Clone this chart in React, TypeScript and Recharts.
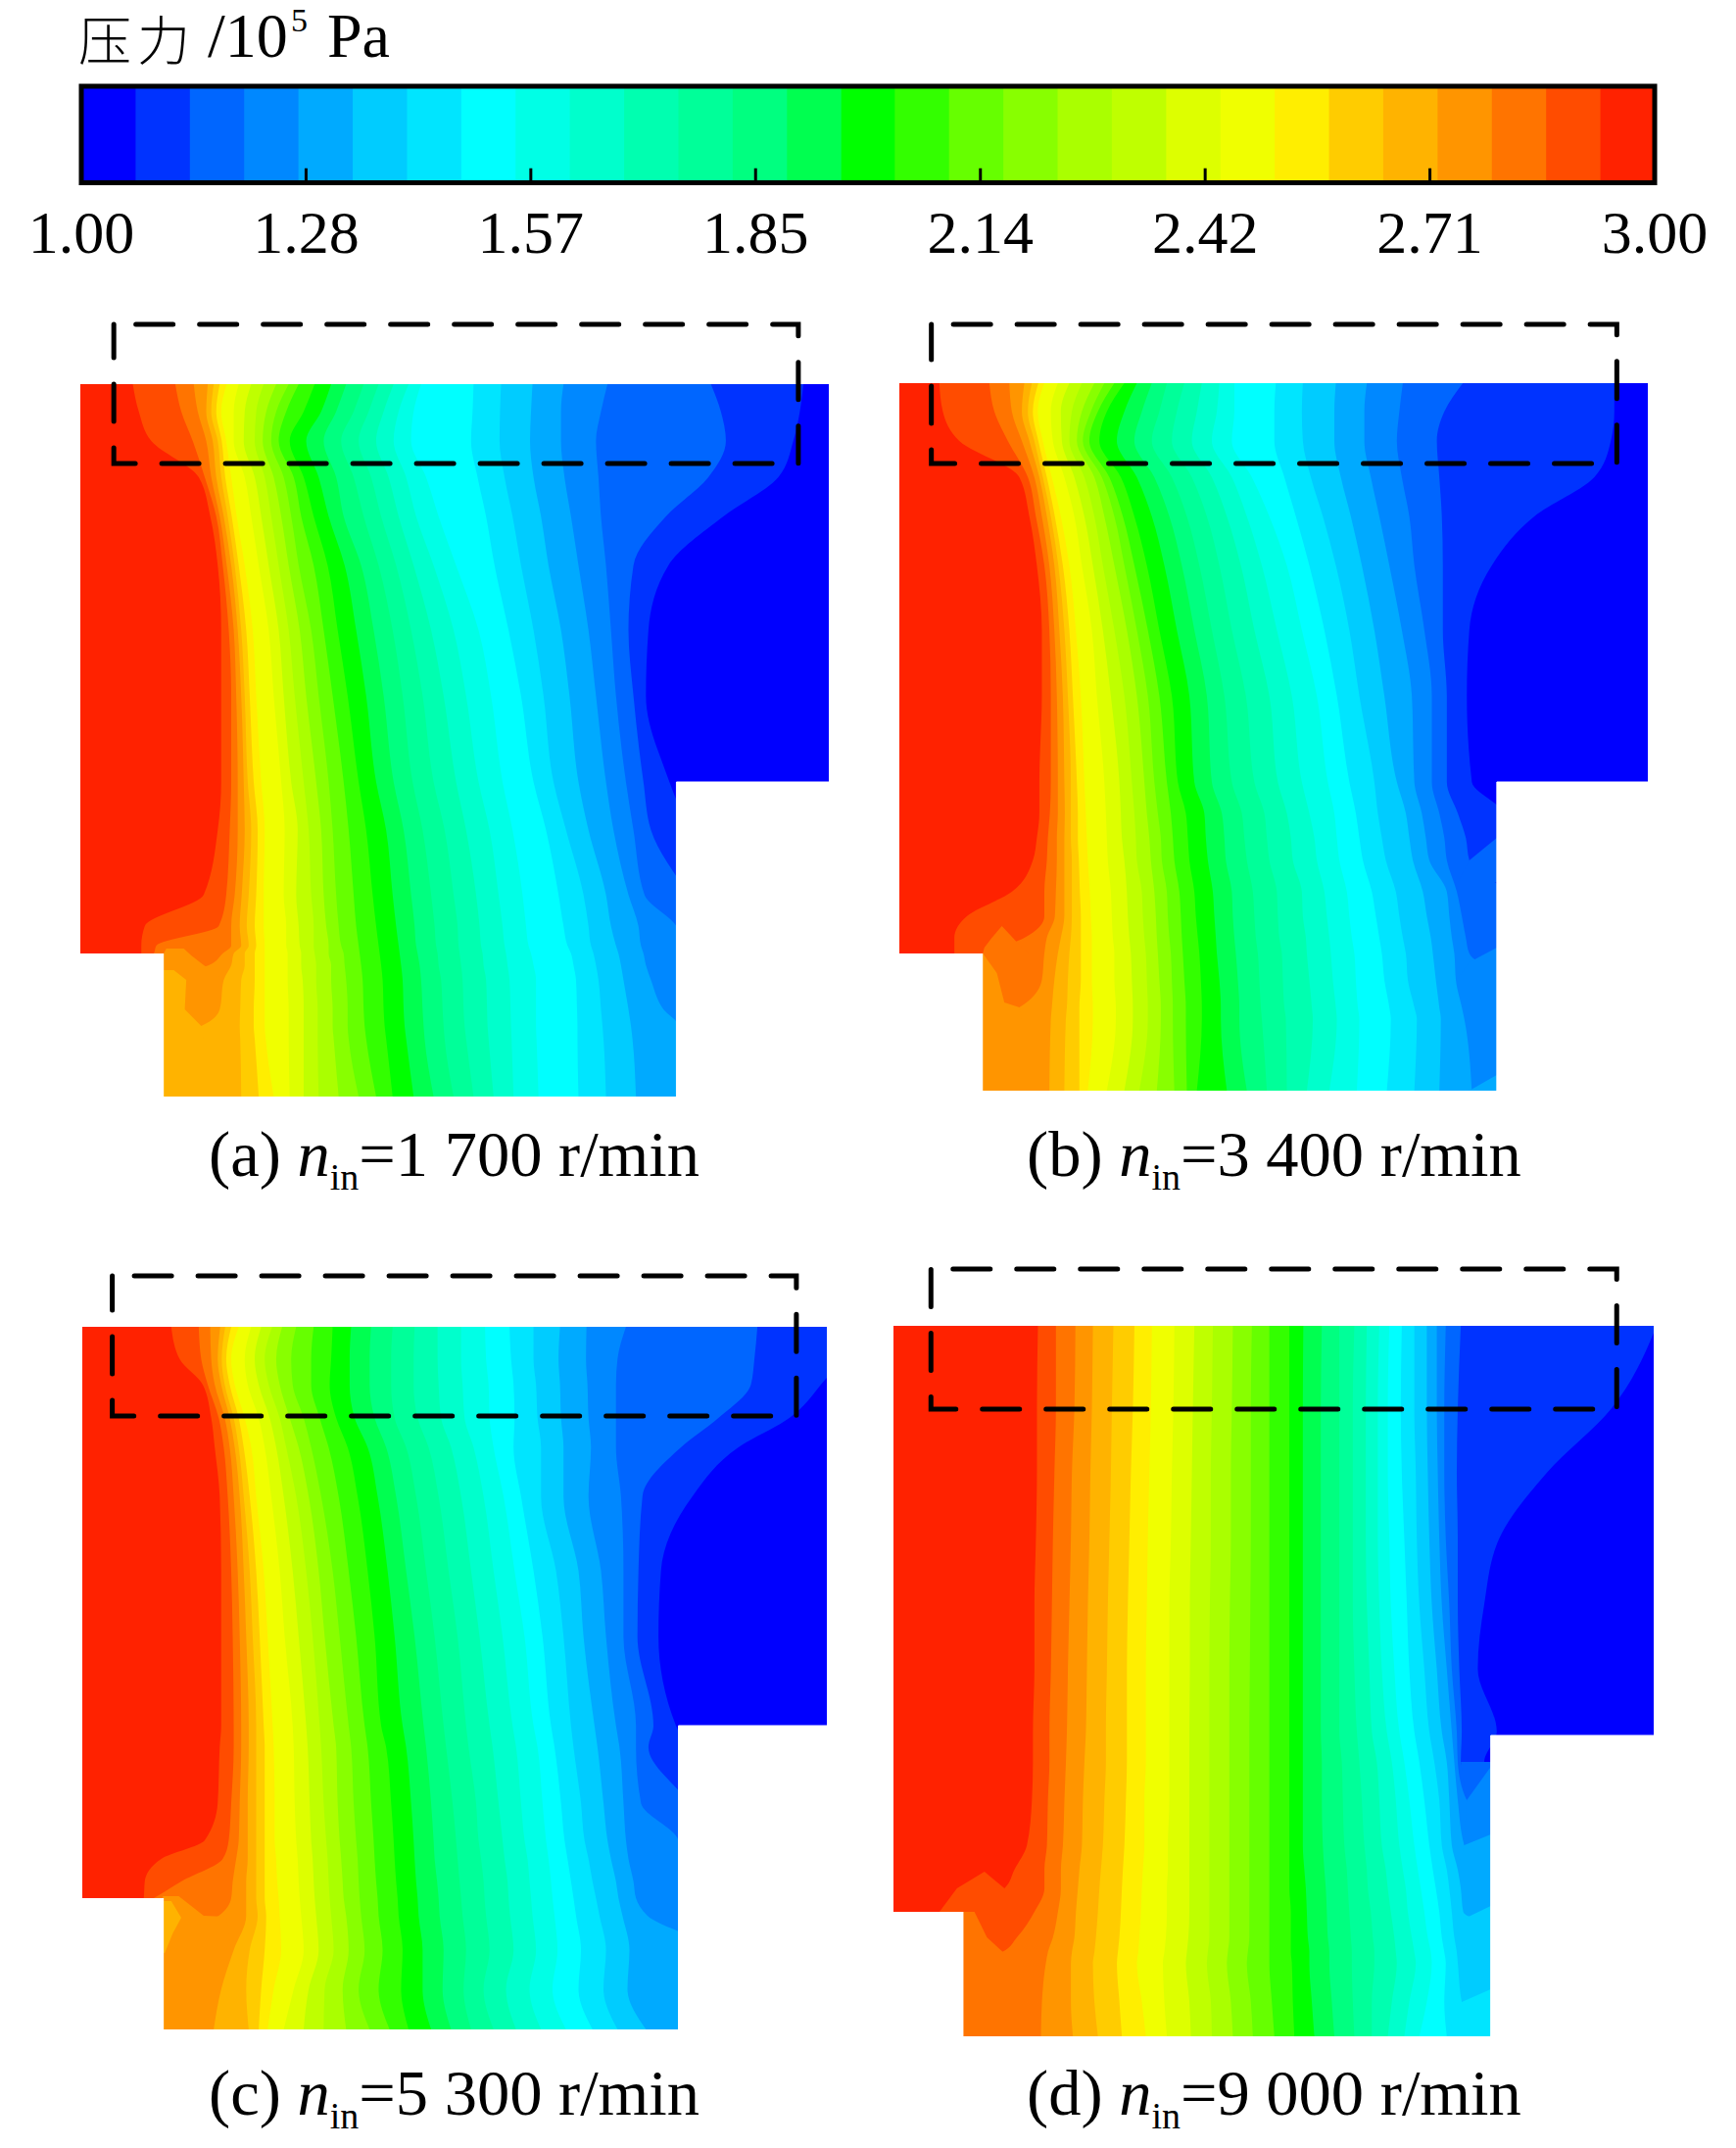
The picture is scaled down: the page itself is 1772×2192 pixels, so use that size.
import React from "react";
import {
  Area,
  ComposedChart,
  ReferenceArea,
  ReferenceLine,
  XAxis,
  YAxis,
} from "recharts";

// colour bands of the pressure scale, low to high
const bandColors = [
  "#0000FF", "#0033FF", "#0066FF", "#0088FF", "#00AAFF", "#00CCFF", "#00E5FF", "#00FFFF",
  "#00FFE6", "#00FFCC", "#00FFB0", "#00FF99", "#00FF80", "#00FF50", "#00FF00", "#33FF00",
  "#66FF00", "#88FF00", "#AAFF00", "#BFFF00", "#DDFF00", "#F0FF00", "#FFEE00", "#FFCC00",
  "#FFB300", "#FF9500", "#FF7400", "#FF4C00", "#FF2200",
];
// upper pressure of each band
const bandTops = [
  1.069, 1.138, 1.207, 1.276, 1.345, 1.414, 1.483, 1.552, 1.621, 1.69, 1.759, 1.828, 1.897, 1.966, 2.034,
  2.103, 2.172, 2.241, 2.31, 2.379, 2.448, 2.517, 2.586, 2.655, 2.724, 2.793, 2.862, 2.931, 3,
];
const scaleTicks = [1, 1.2857, 1.5714, 1.8571, 2.1429, 2.4286, 2.7143, 3];
const scaleTickLabels = ["1.00", "1.28", "1.57", "1.85", "2.14", "2.42", "2.71", "3.00"];

// contour edges per row, left to right: red|next ... second blue|blue
const panelAY = [392, 420, 450, 487, 527, 577, 643, 710, 798, 847, 913, 945, 965, 973, 985, 1000, 1030, 1047, 1060, 1119];
const panelAEdges = [
  [148,233,270,298,310,322,336,360,385,410,435,460,480,512,545,575,610,640,670,700,725,830,885,948,1010,1098,1305,1490],
  [160,245,278,295,305,315,325,350,372,395,415,435,455,490,525,555,590,620,650,680,710,828,883,945,1005,1085,1325,1483],
  [185,268,295,308,318,326,335,350,370,392,408,425,440,462,495,530,565,600,635,670,705,825,882,943,1005,1075,1335,1470],
  [280,292,305,315,325,333,345,372,392,412,430,450,470,490,520,555,590,625,660,695,735,838,892,950,1012,1080,1300,1440],
  [303,315,322,330,338,346,356,385,405,425,445,465,485,510,540,570,610,645,680,715,760,855,908,965,1025,1085,1215,1330],
  [318,328,336,345,352,360,372,400,420,440,460,480,510,538,572,605,640,675,710,750,795,872,925,980,1040,1095,1150,1220],
  [325,340,350,358,365,375,388,420,440,460,482,505,530,558,595,630,668,705,745,790,840,900,950,1005,1060,1105,1140,1180],
  [325,345,355,365,372,382,395,430,450,472,495,520,548,578,615,650,688,728,770,815,865,925,970,1022,1075,1115,1150,1175],
  [325,345,358,370,378,390,405,445,465,490,515,540,570,600,635,670,708,750,795,840,888,950,990,1040,1095,1135,1170,1222],
  [318,342,358,372,385,398,412,452,478,500,525,548,580,615,655,690,728,772,815,862,908,975,1015,1060,1110,1150,1185,1260],
  [290,335,352,366,380,395,410,450,475,505,530,555,590,628,668,705,745,790,835,880,928,1000,1050,1095,1140,1172,1260,1300],
  [172,320,345,362,376,392,410,455,480,510,535,560,595,635,675,712,752,798,842,888,935,1010,1060,1105,1160,1236,1300,1320],
  [165,195,345,365,380,395,412,455,482,510,540,565,600,640,680,715,755,800,845,892,940,1018,1065,1115,1165,1250,1300,1320],
  [165,190,328,350,372,392,412,458,485,512,540,570,602,642,682,718,758,802,848,895,945,1025,1070,1120,1170,1250,1300,1320],
  [100,120,300,345,372,392,412,458,485,515,545,572,605,645,685,722,760,805,850,898,950,1030,1075,1125,1175,1260,1300,1320],
  [100,120,150,330,365,392,412,458,488,515,545,575,608,648,688,725,765,808,855,902,955,1035,1080,1130,1185,1260,1300,1320],
  [100,120,150,322,363,390,412,460,490,518,548,578,610,650,690,728,768,810,857,904,955,1037,1085,1140,1210,1300,1320,1340],
  [100,120,150,285,362,390,412,460,490,518,548,578,612,652,692,730,770,812,858,905,955,1038,1088,1145,1240,1300,1320,1340],
  [100,120,150,180,363,392,414,460,490,518,550,580,615,655,695,732,772,815,860,906,956,1038,1090,1148,1240,1300,1320,1340],
  [100,120,150,180,365,400,430,462,490,520,560,600,635,668,710,750,790,830,870,910,960,1040,1095,1155,1240,1300,1320,1340],
];
const panelAPatches = [
  { band: 25, rows: [[968, 215, 250], [975, 208, 265], [983, 208, 285], [1000, 208, 330]] },
  { band: 24, rows: [[990, 208, 230], [1000, 208, 255], [1030, 208, 252], [1047, 208, 285], [1060, 208, 290]] },
];

const panelBY = [391, 420, 450, 487, 527, 577, 643, 710, 798, 830, 855, 878, 910, 935, 957, 973, 1000, 1028, 1040, 1113];
const panelBEdges = [
  [135,235,275,305,320,333,345,372,395,420,445,465,485,505,530,560,590,625,660,695,725,808,862,928,990,1062,1182,1485],
  [142,245,280,300,312,322,332,358,378,400,420,438,452,470,505,540,575,610,650,690,725,805,860,925,985,1055,1145,1485],
  [175,272,300,315,325,333,342,362,380,395,410,422,435,455,490,525,560,600,640,680,720,805,862,925,985,1050,1130,1478],
  [295,312,325,335,342,350,360,385,405,425,445,460,475,498,530,565,600,640,680,720,760,825,878,938,998,1060,1135,1445],
  [315,328,340,350,358,366,378,405,425,445,465,485,502,525,560,595,630,670,710,750,795,848,902,958,1015,1075,1140,1325],
  [330,345,355,365,373,382,395,420,442,462,485,505,525,550,585,620,655,695,738,780,830,875,928,980,1035,1085,1142,1240],
  [340,355,365,375,385,395,408,440,462,485,510,530,552,575,610,645,680,720,765,810,860,905,955,1005,1060,1105,1142,1195],
  [340,358,370,382,392,402,418,450,478,505,530,552,575,600,635,670,705,748,795,840,890,930,975,1025,1080,1120,1150,1190],
  [335,358,372,385,398,410,425,465,495,520,545,565,590,612,645,680,720,765,812,860,912,955,1005,1050,1085,1120,1150,1200],
  [335,356,372,386,398,412,428,468,498,525,550,572,598,628,665,700,740,785,830,875,925,968,1012,1068,1100,1135,1172,1260],
  [330,352,370,385,398,412,430,470,500,528,555,578,602,632,668,705,745,790,838,885,930,975,1020,1075,1108,1145,1188,1260],
  [322,350,370,385,400,414,432,472,505,530,558,580,605,635,672,708,750,795,842,890,935,982,1028,1082,1115,1150,1195,1260],
  [280,345,368,385,400,416,436,478,510,540,565,590,615,645,682,720,762,810,860,905,950,1000,1048,1102,1150,1170,1260,1300],
  [190,345,366,385,400,418,438,480,512,542,568,592,618,648,685,722,765,812,862,910,955,1008,1055,1110,1155,1180,1260,1300],
  [165,305,350,378,398,418,440,482,515,545,570,595,620,652,688,725,768,815,868,915,960,1015,1062,1118,1160,1188,1260,1300],
  [165,222,345,372,395,418,440,485,518,548,572,598,622,655,690,728,772,820,870,918,965,1020,1068,1122,1165,1195,1260,1300],
  [100,120,340,365,392,418,440,485,520,550,575,600,625,658,695,732,775,822,875,922,968,1025,1072,1128,1168,1260,1300,1320],
  [100,120,295,360,390,415,442,488,522,552,578,602,628,660,698,735,778,825,880,928,972,1035,1085,1135,1180,1270,1300,1320],
  [100,120,140,358,388,415,442,488,522,552,578,602,628,660,698,735,780,828,882,930,975,1038,1090,1138,1185,1270,1300,1320],
  [100,120,140,355,385,415,432,470,505,535,570,605,630,650,710,750,790,830,870,915,970,1030,1085,1135,1200,1300,1320,1340],
];
const panelBPatches = [
  { band: 26, rows: [[945, 260, 260], [957, 240, 282], [967, 225, 300], [973, 222, 312]] },
  { band: 25, rows: [[973, 220, 222], [993, 220, 250], [1023, 220, 265], [1028, 220, 295], [1040, 220, 300]] },
  { band: 2, rows: [[855, 1250, 1260], [878, 1195, 1260], [900, 1172, 1260]] },
  { band: 3, rows: [[967, 1250, 1260], [982, 1195, 1260], [1000, 1170, 1260]] },
  { band: 4, rows: [[1097, 1250, 1260], [1113, 1195, 1260]] },
];

const panelCY = [1354, 1387, 1413, 1447, 1477, 1527, 1603, 1670, 1761, 1783, 1840, 1878, 1897, 1920, 1937, 1955, 1990, 2030, 2071];
const panelCEdges = [
  [225,280,303,323,333,345,360,385,405,427,447,475,510,548,585,625,668,712,758,805,853,902,950,1003,1056,1135,1398,1540],
  [242,285,305,318,326,335,345,372,392,412,435,465,505,545,582,622,665,710,758,805,855,905,950,1000,1055,1118,1392,1560],
  [288,298,312,325,332,342,352,378,400,420,442,468,505,542,582,622,665,710,760,808,860,910,955,1003,1058,1115,1385,1525],
  [305,320,332,342,350,360,372,400,422,442,462,490,522,555,592,632,672,718,765,812,862,912,958,1005,1060,1115,1320,1462],
  [312,330,342,352,360,370,385,412,435,455,480,505,540,578,618,655,695,740,785,830,870,910,965,1010,1065,1115,1245,1360],
  [322,338,350,362,370,382,395,425,450,475,500,525,560,598,638,675,715,760,805,850,890,925,965,1010,1060,1125,1168,1268],
  [325,345,358,370,382,395,410,442,468,495,520,548,580,618,658,695,735,780,825,870,912,950,995,1040,1085,1130,1160,1205],
  [325,348,362,375,388,402,418,452,480,508,532,562,595,632,672,712,752,798,842,888,932,968,1010,1050,1095,1130,1158,1200],
  [325,350,365,380,395,410,428,468,495,522,550,580,612,645,688,730,770,815,862,908,950,985,1025,1072,1115,1155,1190,1235],
  [322,350,365,380,395,412,430,470,498,525,555,585,618,655,695,735,775,820,868,915,958,992,1030,1078,1122,1155,1180,1260],
  [318,345,362,378,395,412,432,472,502,530,558,590,625,665,705,745,788,835,880,925,968,1005,1045,1090,1130,1165,1260,1300],
  [292,340,360,378,395,412,432,475,505,535,562,595,630,670,710,750,795,840,888,932,975,1012,1052,1098,1135,1240,1300,1320],
  [205,328,355,378,395,412,435,478,508,538,565,598,632,672,712,752,798,845,892,938,980,1018,1060,1105,1140,1245,1300,1320],
  [172,245,348,375,395,412,437,480,510,540,568,600,635,675,715,757,802,850,898,942,985,1025,1068,1115,1150,1250,1300,1320],
  [170,190,345,375,395,412,440,482,512,542,570,602,638,678,718,760,805,852,900,945,988,1030,1075,1120,1155,1255,1300,1320],
  [100,120,320,375,398,415,442,485,515,545,575,605,640,680,720,762,808,855,903,948,992,1035,1082,1128,1178,1262,1300,1320],
  [100,120,140,350,382,412,445,490,520,550,580,612,648,688,728,770,815,862,910,955,998,1045,1095,1142,1300,1310,1320,1340],
  [100,120,140,325,375,405,430,470,500,532,568,600,640,685,728,768,810,850,895,942,988,1040,1090,1138,1260,1300,1310,1320],
  [100,120,140,310,380,400,418,450,490,530,575,622,662,700,745,785,825,870,915,965,1015,1068,1118,1175,1260,1290,1310,1320],
];
const panelCPatches = [
  { band: 25, rows: [[1935, 208, 240], [1947, 208, 270], [1955, 208, 290], [1956, 208, 335], [1990, 208, 345]] },
  { band: 24, rows: [[1940, 208, 225], [1957, 208, 245], [1973, 208, 228], [1993, 208, 212]] },
];

const panelDY = [1353, 1437, 1503, 1570, 1637, 1703, 1767, 1798, 1837, 1883, 1908, 1927, 1951, 1977, 1992, 2003, 2043, 2078];
const panelDEdges = [
  [332,368,407,442,483,525,560,605,645,682,722,760,795,835,863,900,935,965,990,1015,1035,1060,1085,1110,1130,1148,1178,1570],
  [330,368,405,440,480,522,558,603,642,680,720,758,795,835,862,898,935,962,988,1012,1032,1058,1085,1110,1130,1145,1172,1480],
  [330,365,400,437,478,518,555,600,640,678,718,758,795,835,862,898,935,962,988,1012,1032,1060,1088,1112,1132,1145,1170,1350],
  [328,362,398,435,475,515,552,598,638,678,718,758,795,835,862,898,935,962,988,1012,1035,1065,1090,1115,1135,1148,1172,1255],
  [325,360,395,432,472,512,550,595,636,676,716,757,795,835,862,898,935,962,990,1015,1038,1070,1095,1120,1140,1155,1172,1225],
  [325,358,392,430,470,510,548,595,636,675,715,756,795,835,862,898,935,965,995,1020,1045,1075,1105,1130,1150,1160,1175,1212],
  [322,355,390,428,468,510,548,595,635,675,715,755,795,835,862,898,935,970,1000,1030,1055,1085,1115,1140,1160,1170,1180,1250],
  [322,355,388,425,468,510,548,595,635,675,715,755,795,835,862,900,940,975,1010,1040,1065,1095,1125,1150,1165,1172,1178,1225],
  [320,352,385,422,465,508,545,595,635,675,715,755,795,835,862,900,942,980,1015,1048,1075,1105,1135,1155,1172,1190,1300,1320],
  [310,350,382,420,462,505,545,592,635,675,715,755,795,835,862,902,945,985,1020,1055,1085,1115,1140,1160,1185,1300,1320,1340],
  [285,345,378,415,458,502,542,592,635,675,715,755,795,835,865,905,950,990,1028,1062,1092,1122,1150,1172,1300,1310,1320,1340],
  [265,345,378,412,455,500,540,590,635,675,715,755,795,835,868,908,952,992,1032,1068,1098,1128,1155,1178,1300,1310,1320,1340],
  [135,325,372,408,452,498,538,590,635,675,715,755,795,838,870,910,955,998,1038,1072,1105,1135,1160,1183,1300,1310,1320,1340],
  [100,290,362,405,448,495,535,588,633,675,715,755,795,838,872,912,958,1002,1045,1080,1112,1140,1165,1300,1305,1310,1320,1340],
  [100,260,352,400,445,492,533,585,630,672,712,752,795,838,875,915,960,1005,1048,1085,1118,1145,1170,1300,1305,1310,1320,1340],
  [100,120,348,398,442,490,530,582,628,670,710,750,795,840,875,915,960,1005,1050,1088,1120,1148,1172,1300,1305,1310,1320,1340],
  [100,120,340,398,445,495,540,585,635,678,718,758,800,842,880,920,962,1000,1040,1075,1110,1145,1180,1300,1305,1310,1320,1340],
  [100,120,338,402,452,500,548,590,638,680,722,762,805,845,885,925,965,1000,1032,1065,1095,1150,1260,1270,1280,1290,1300,1320],
];
const panelDPatches = [
  { band: 27, rows: [[1910, 225, 225], [1927, 170, 265], [1951, 135, 265]] },
  { band: 26, rows: [[1951, 180, 205], [1977, 180, 230], [1992, 180, 262], [2003, 180, 262]] },
  { band: 2, rows: [[1798, 1178, 1245], [1837, 1190, 1245]] },
  { band: 3, rows: [[1803, 1238, 1245], [1837, 1190, 1245], [1883, 1185, 1245]] },
  { band: 4, rows: [[1872, 1238, 1245], [1883, 1185, 1245], [1908, 1172, 1245]] },
  { band: 5, rows: [[1945, 1238, 1245], [1958, 1185, 1245], [1977, 1170, 1245]] },
  { band: 6, rows: [[2030, 1238, 1245], [2043, 1180, 1245], [2078, 1150, 1245]] },
];

const panels = [
  { key: "a", ys: panelAY, edges: panelAEdges, patches: panelAPatches, originX: 60, left: 43, right: 1541, notchX: 1236, notchY: 798, stepX: 210, stepY: 973, bottom: 1119, box: [110, 1480, 331, 473] },
  { key: "b", ys: panelBY, edges: panelBEdges, patches: panelBPatches, originX: 890, left: 55, right: 1552, notchX: 1250, notchY: 798, stepX: 222, stepY: 973, bottom: 1113, box: [119, 1490, 331, 473] },
  { key: "c", ys: panelCY, edges: panelCEdges, patches: panelCPatches, originX: 60, left: 47, right: 1537, notchX: 1240, notchY: 1761, stepX: 210, stepY: 1937, bottom: 2071, box: [107, 1476, 1302, 1445] },
  { key: "d", ys: panelDY, edges: panelDEdges, patches: panelDPatches, originX: 890, left: 43, right: 1564, notchX: 1238, notchY: 1771, stepX: 183, stepY: 1951, bottom: 2078, box: [118, 1490, 1295, 1438] },
];

const captions = [
  { tag: "(a) ", speed: "=1 700 r/min", x: 213, y: 1200 },
  { tag: "(b) ", speed: "=3 400 r/min", x: 1048, y: 1200 },
  { tag: "(c) ", speed: "=5 300 r/min", x: 213, y: 2158 },
  { tag: "(d) ", speed: "=9 000 r/min", x: 1048, y: 2158 },
];

const UNITS_PER_PX = 1.96;
const SERIF = '"Liberation Serif", "Times New Roman", serif';

function ContourPanel({ panel }: { panel: (typeof panels)[number] }) {
  const { ys, edges, patches, originX, left, right, notchX, notchY, stepX, stepY, bottom, box } = panel;
  const table = ys.map((y, i) => {
    const row: Record<string, number> = { y, right };
    edges[i].forEach((v, k) => {
      row[`e${k}`] = v;
    });
    return row;
  });
  const top = box[2] - 8;
  const width = Math.round((right - left) / UNITS_PER_PX);
  const height = bottom - top;
  return (
    <div style={{ position: "absolute", left: Math.round(originX + left / UNITS_PER_PX), top }}>
      <ComposedChart layout="vertical" width={width} height={height} data={table} margin={{ top: 0, right: 0, bottom: 0, left: 0 }}>
        <XAxis type="number" domain={[left, right]} allowDataOverflow hide />
        <YAxis type="number" dataKey="y" domain={[top, bottom]} allowDataOverflow hide />
        {bandColors.map((color, band) => (
          <Area
            key={band}
            type="monotone"
            dataKey={band === 0 ? "right" : `e${28 - band}`}
            fill={color}
            fillOpacity={1}
            stroke="none"
            dot={false}
            activeDot={false}
            isAnimationActive={false}
          />
        ))}
        {patches.map((patch, i) => (
          <Area
            key={`patch${i}`}
            data={patch.rows.map(([y, from, to]) => ({ y, range: [from, to] }))}
            type="linear"
            dataKey="range"
            fill={bandColors[patch.band]}
            fillOpacity={1}
            stroke="none"
            dot={false}
            activeDot={false}
            isAnimationActive={false}
          />
        ))}
        <ReferenceArea x1={notchX} x2={right} y1={notchY} y2={bottom} fill="#fff" fillOpacity={1} stroke="#fff" strokeWidth={1} />
        <ReferenceArea x1={left} x2={stepX} y1={stepY} y2={bottom} fill="#fff" fillOpacity={1} stroke="none" />
        <ReferenceArea
          x1={box[0]}
          x2={box[1]}
          y1={box[2]}
          y2={box[3]}
          fill="none"
          stroke="#000"
          strokeWidth={5}
          strokeDasharray="38 27"
          strokeDashoffset={42.5}
          strokeLinecap="round"
        />
      </ComposedChart>
    </div>
  );
}

function ColorScale() {
  const rows = [0, 1].map((y) => {
    const row: Record<string, number> = { y };
    bandTops.forEach((v, k) => {
      row[`t${k}`] = v;
    });
    return row;
  });
  return (
    <div style={{ position: "absolute", left: 0, top: 0 }}>
      <ComposedChart
        layout="vertical"
        width={1772}
        height={300}
        data={rows}
        margin={{ top: 88, right: 83, bottom: 112.5, left: 83 }}
      >
        <XAxis
          type="number"
          domain={[1, 3]}
          ticks={scaleTicks}
          interval={0}
          height={1}
          axisLine={false}
          tickLine={false}
          tick={({ x, index }: any) => (
            <text x={x} y={258} textAnchor="middle" fontFamily={SERIF} fontSize={62} fill="#000">
              {scaleTickLabels[index]}
            </text>
          )}
        />
        <YAxis type="number" dataKey="y" domain={[0, 1]} hide />
        {bandColors
          .map((color, k) => (
            <Area
              key={color}
              type="linear"
              dataKey={`t${k}`}
              fill={color}
              fillOpacity={1}
              stroke="none"
              dot={false}
              activeDot={false}
              isAnimationActive={false}
            />
          ))
          .reverse()}
        {scaleTicks.slice(1, -1).map((t) => (
          <ReferenceLine key={t} segment={[{ x: t, y: 1 }, { x: t, y: 0.85 }]} stroke="#000" strokeWidth={3} />
        ))}
        <ReferenceArea x1={1} x2={3} y1={0} y2={1} fill="none" stroke="#000" strokeWidth={5} />
      </ComposedChart>
    </div>
  );
}

export default function App() {
  return (
    <div style={{ position: "absolute", left: 0, top: 0, width: 1772, height: 2192, background: "#fff", overflow: "hidden" }}>
      <ColorScale />
      {panels.map((panel) => (
        <ContourPanel key={panel.key} panel={panel} />
      ))}
      <svg width={1772} height={2192} style={{ position: "absolute", left: 0, top: 0, pointerEvents: "none" }}>
        <text y={62} fontFamily={SERIF} fontSize={64} fill="#000">
          <tspan x={80} fontFamily='"Noto Sans CJK SC"' fontWeight={300} fontSize={54} letterSpacing={6}>压力</tspan>
          <tspan x={212} dy={-4}>/10</tspan>
          <tspan x={297} fontSize={34} dy={-26}>5</tspan>
          <tspan x={334} dy={26}>Pa</tspan>
        </text>
        {captions.map((c) => (
          <text key={c.tag} x={c.x} y={c.y} fontFamily={SERIF} fontSize={66.5} fill="#000">
            <tspan>{c.tag}</tspan>
            <tspan fontStyle="italic">n</tspan>
            <tspan fontSize={38} dy={14}>in</tspan>
            <tspan dy={-14}>{c.speed}</tspan>
          </text>
        ))}
      </svg>
    </div>
  );
}
